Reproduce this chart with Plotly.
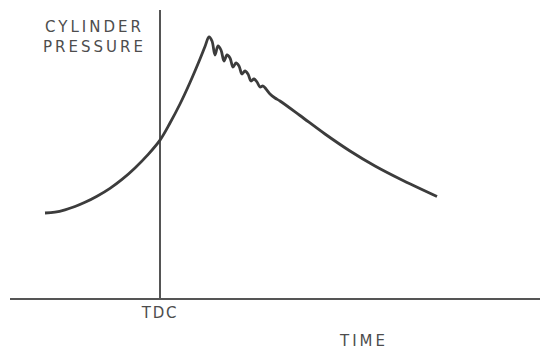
import plotly.graph_objects as go

# time relative to TDC (arbitrary units) and cylinder pressure (arbitrary units)
time = [-11.5, -10.5, -9.5, -8.5, -7.5, -6.3, -5.0, -3.8, -2.5, -1.2, 0.0, 1.0, 2.0, 3.0, 4.0, 4.5, 4.9,
        5.2, 5.5, 5.8, 6.1, 6.4, 6.7, 7.0, 7.3, 7.6, 7.9, 8.2, 8.5, 8.8, 9.1, 9.4, 9.7,
        10.0, 10.3, 10.6, 11.0, 11.5, 12.0,
        14.0, 16.5, 19.0, 21.5, 24.0, 27.7]
pressure = [8.5, 8.59, 8.82, 9.15, 9.57, 10.18, 10.97, 11.86, 13.01, 14.34, 15.79, 17.5, 19.4, 21.55, 23.9, 25.15, 26.1,
            25.7, 24.3, 25.2, 24.8, 23.7, 24.3, 24.0, 23.1, 23.5, 23.2, 22.4, 22.7, 22.4, 21.7, 21.9, 21.6,
            21.1, 21.2, 20.9, 20.4, 20.0, 19.7,
            18.25, 16.4, 14.7, 13.2, 11.9, 10.15]

tick_vals = [0]
tick_labels = ["TDC"]
y_label_lines = ["CYLINDER", "PRESSURE"]
x_label = "TIME"

ink = "#3c3c3c"
text_col = "#4d4d4d"
font_family = "DejaVu Sans, Liberation Sans, Arial, sans-serif"


def spaced(s, px):
    return f'<span style="letter-spacing:{px}px">{s}</span>'


fig = go.Figure()
fig.add_trace(go.Scatter(
    x=time, y=pressure, mode="lines",
    line=dict(color=ink, width=2.8, shape="spline", smoothing=1.0),
    hoverinfo="skip", showlegend=False,
))

fig.update_layout(
    width=540, height=354,
    margin=dict(l=10, r=0, t=10, b=56),
    paper_bgcolor="white", plot_bgcolor="white",
    xaxis=dict(
        range=[-15, 38], showgrid=False,
        showline=True, linecolor="#555555", linewidth=1.6,
        zeroline=True, zerolinecolor="#555555", zerolinewidth=1.6,
        tickmode="array", tickvals=tick_vals,
        ticktext=[spaced(t, 1.7) for t in tick_labels],
        ticks="", tickfont=dict(family=font_family, size=15, color=text_col),
        fixedrange=True,
    ),
    yaxis=dict(
        range=[0, 28.8], showgrid=False, showline=False, zeroline=False,
        showticklabels=False, ticks="", fixedrange=True,
    ),
    annotations=[
        dict(x=-6.6, y=26.1, xref="x", yref="y",
             text="<br>".join(spaced(s, 3) for s in y_label_lines), showarrow=False,
             font=dict(family=font_family, size=15, color=text_col), align="center",
             xanchor="center", yanchor="middle"),
        dict(x=20.3, y=-0.149, xref="x", yref="paper", text=spaced(x_label, 3), showarrow=False,
             font=dict(family=font_family, size=15, color=text_col),
             xanchor="center", yanchor="middle"),
    ],
)

fig.write_html(
    "out.html",
    config={"displayModeBar": False},
    post_script="document.body.style.margin='0';document.body.style.overflow='hidden';",
)
